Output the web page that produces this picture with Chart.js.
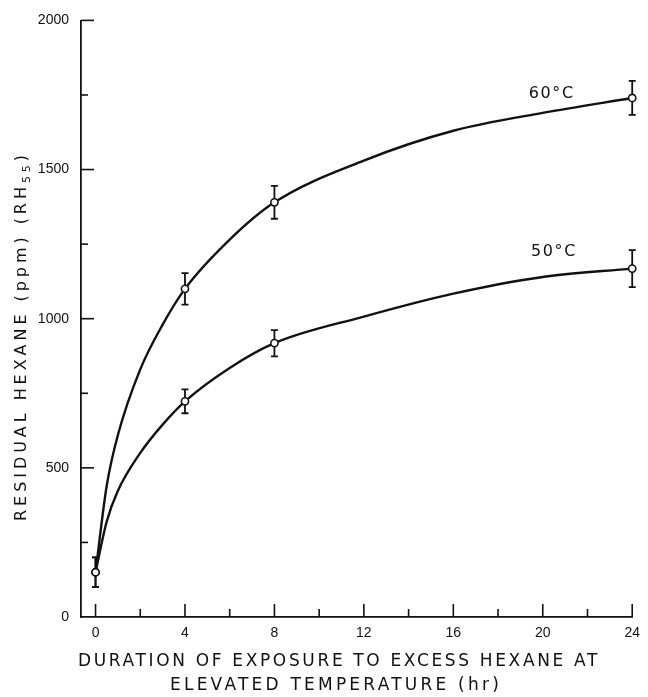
<!DOCTYPE html>
<html lang="en">
<head>
<meta charset="UTF-8" />
<title>Residual Hexane vs Exposure Time</title>
<script src="https://cdn.jsdelivr.net/npm/chart.js"></script>
<style>
  html, body { margin: 0; padding: 0; background: #fff; }
  #wrap { width: 648px; height: 697px; }
</style>
</head>
<body>
<div id="wrap"><canvas id="hexChart" width="648" height="697" role="img" aria-label="Residual hexane versus duration of exposure at 50 and 60 degrees C"></canvas></div>
<script>
// measured points (hr) with +/- error
const sampleHours = [0, 4, 8, 24];
const mean60 = [150, 1100, 1390, 1740];
const err60 = [50, 53, 55, 57];
const mean50 = [150, 723, 918, 1168];
const err50 = [50, 40, 44, 62];

// the hand-drawn curves
const curveHours = [0, 0.5, 1, 2, 3, 4, 6, 8, 12, 16, 20, 24];
const curve60 = [150, 440, 610, 830, 980, 1100, 1265, 1390, 1530, 1630, 1690, 1740];
const curve50 = [150, 320, 423, 550, 645, 723, 835, 918, 1007, 1084, 1140, 1168];

const seriesNames = ['60°C', '50°C'];

const xTickValues = [0, 2, 4, 6, 8, 10, 12, 14, 16, 18, 20, 22, 24];
const xTickLabels = ['0', '', '4', '', '8', '', '12', '', '16', '', '20', '', '24'];
const yTickValues = [0, 250, 500, 750, 1000, 1250, 1500, 1750, 2000];
const yTickLabels = ['0', '', '500', '', '1000', '', '1500', '', '2000'];

const INK = '#111';
const FONT = '"Liberation Sans", "DejaVu Sans", Arial, sans-serif';
const TITLE_FONT = '"DejaVu Sans", "Liberation Sans", sans-serif';

// draw text pieces spread out to a given width, centred on (cx, cy)
function spacedText(ctx, parts, cx, cy, width) {
    ctx.letterSpacing = '0px';
    let raw = 0, n = 0;
    parts.forEach(p => {
        ctx.font = p.size + 'px ' + TITLE_FONT;
        raw += ctx.measureText(p.text).width;
        n += p.text.length;
    });
    const gap = Math.max(0, (width - raw) / n);
    ctx.letterSpacing = gap + 'px';
    let x = cx - width / 2;
    ctx.textAlign = 'left';
    ctx.textBaseline = 'middle';
    parts.forEach(p => {
        ctx.font = p.size + 'px ' + TITLE_FONT;
        ctx.fillText(p.text, x, cy + (p.dy || 0));
        x += ctx.measureText(p.text).width;
    });
    ctx.letterSpacing = '0px';
}

const paperAxes = {
    id: 'paperAxes',
    beforeDatasetsDraw(chart) {
        const { ctx, scales: { x, y } } = chart;
        ctx.save();
        ctx.strokeStyle = INK;
        ctx.lineWidth = 1.6;

        // ticks point inward, majors longer
        xTickValues.forEach((v, i) => {
            const px = x.getPixelForValue(v);
            const len = xTickLabels[i] ? 13 : 8;
            ctx.beginPath();
            ctx.moveTo(px, y.bottom);
            ctx.lineTo(px, y.bottom - len);
            ctx.stroke();
        });
        yTickValues.forEach((v, i) => {
            if (v === 0) return;
            const py = y.getPixelForValue(v);
            const len = yTickLabels[i] ? 13 : 7;
            ctx.beginPath();
            ctx.moveTo(x.left, py);
            ctx.lineTo(x.left + len, py);
            ctx.stroke();
        });

        // error bars
        ctx.lineWidth = 1.8;
        [[mean60, err60], [mean50, err50]].forEach(([m, e]) => {
            sampleHours.forEach((h, i) => {
                const px = x.getPixelForValue(h);
                const top = y.getPixelForValue(m[i] + e[i]);
                const bot = y.getPixelForValue(m[i] - e[i]);
                ctx.beginPath();
                ctx.moveTo(px, top); ctx.lineTo(px, bot);
                ctx.moveTo(px - 3.5, top); ctx.lineTo(px + 3.5, top);
                ctx.moveTo(px - 3.5, bot); ctx.lineTo(px + 3.5, bot);
                ctx.stroke();
            });
        });
        ctx.restore();
    },
    afterDraw(chart) {
        const { ctx, scales: { x, y } } = chart;
        ctx.save();
        ctx.fillStyle = INK;

        // curve labels
        const spots = [[20.4, 1755], [20.5, 1223]];
        seriesNames.forEach((name, i) => {
            spacedText(ctx, [{ text: name, size: 16 }],
                x.getPixelForValue(spots[i][0]), y.getPixelForValue(spots[i][1]), 46);
        });

        // x title, two lines
        spacedText(ctx, [{ text: 'DURATION OF EXPOSURE TO EXCESS HEXANE AT', size: 17 }], 339, 662, 522);
        spacedText(ctx, [{ text: 'ELEVATED TEMPERATURE (hr)', size: 17 }], 336, 686, 332);

        // y title, rotated, with subscript
        ctx.translate(22, 336);
        ctx.rotate(-Math.PI / 2);
        spacedText(ctx, [
            { text: 'RESIDUAL HEXANE (ppm) (RH', size: 16 },
            { text: '55', size: 11, dy: 5 },
            { text: ')', size: 16 }
        ], 0, 0, 370);
        ctx.restore();
    }
};

const pts = (xs, ys) => xs.map((h, i) => ({ x: h, y: ys[i] }));

new Chart(document.getElementById('hexChart'), {
    type: 'line',
    data: {
        datasets: [
            {
                label: seriesNames[0] + ' measured',
                data: pts(sampleHours, mean60),
                showLine: false,
                pointRadius: 3.6,
                pointBackgroundColor: '#fff',
                pointBorderColor: INK,
                pointBorderWidth: 1.6,
                clip: false,
                order: 0
            },
            {
                label: seriesNames[1] + ' measured',
                data: pts(sampleHours, mean50),
                showLine: false,
                pointRadius: 3.6,
                pointBackgroundColor: '#fff',
                pointBorderColor: INK,
                pointBorderWidth: 1.6,
                clip: false,
                order: 0
            },
            {
                label: seriesNames[0],
                data: pts(curveHours, curve60),
                borderColor: INK,
                borderWidth: 2.4,
                pointRadius: 0,
                cubicInterpolationMode: 'monotone',
                clip: false,
                order: 1
            },
            {
                label: seriesNames[1],
                data: pts(curveHours, curve50),
                borderColor: INK,
                borderWidth: 2.4,
                pointRadius: 0,
                cubicInterpolationMode: 'monotone',
                clip: false,
                order: 1
            }
        ]
    },
    options: {
        responsive: false,
        animation: false,
        layout: { padding: { top: 17, right: 6, left: 0, bottom: 0 } },
        plugins: {
            legend: { display: false },
            tooltip: { enabled: false }
        },
        scales: {
            x: {
                type: 'linear',
                min: -0.65,
                max: 24,
                afterFit(s) { s.height = 80; },
                afterBuildTicks(s) { s.ticks = xTickValues.map(v => ({ value: v })); },
                grid: { display: false, drawTicks: false },
                border: { display: true, color: INK, width: 1.8 },
                ticks: {
                    autoSkip: false,
                    maxRotation: 0,
                    padding: 8,
                    color: INK,
                    font: { family: FONT, size: 14 },
                    callback: v => xTickLabels[xTickValues.indexOf(v)]
                }
            },
            y: {
                type: 'linear',
                min: 0,
                max: 2000,
                afterFit(s) { s.width = 81; },
                afterBuildTicks(s) { s.ticks = yTickValues.map(v => ({ value: v })); },
                grid: { display: false, drawTicks: false },
                border: { display: true, color: INK, width: 1.8 },
                ticks: {
                    autoSkip: false,
                    padding: 12,
                    color: INK,
                    font: { family: FONT, size: 14 },
                    callback: v => yTickLabels[yTickValues.indexOf(v)]
                }
            }
        }
    },
    plugins: [paperAxes]
});
</script>
</body>
</html>
